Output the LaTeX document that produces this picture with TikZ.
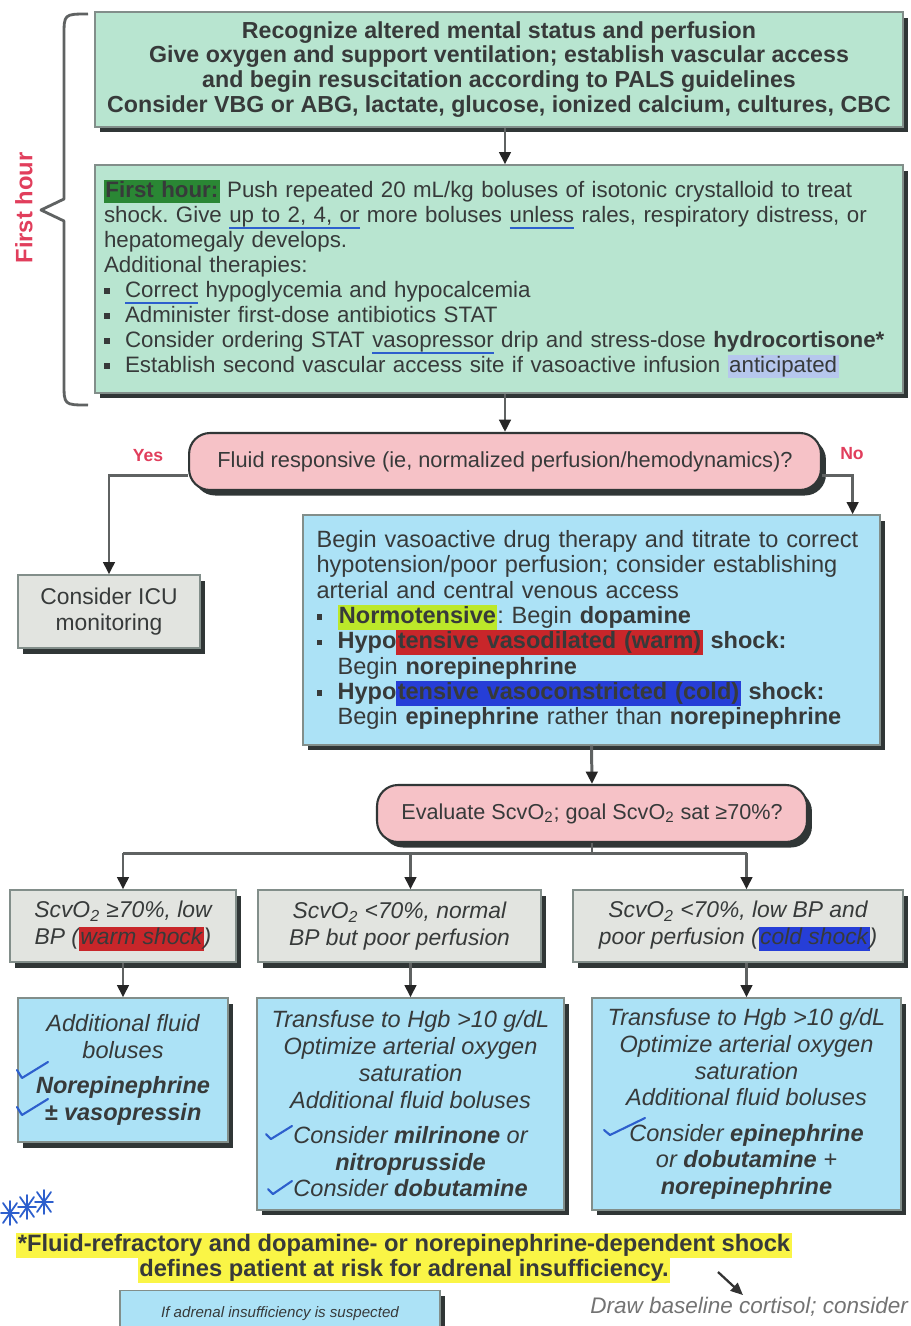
\documentclass[tikz,border=0pt]{standalone}
\usepackage{fontspec}
\setmainfont{Liberation Sans}
\usetikzlibrary{arrows.meta,calc,shadows}

\definecolor{mintfill}{RGB}{184,229,208}
\definecolor{pinkfill}{RGB}{246,194,199}
\definecolor{skyfill}{RGB}{172,226,246}
\definecolor{greyfill}{RGB}{226,228,224}
\definecolor{edgegrey}{RGB}{130,142,138}
\definecolor{inkgrey}{RGB}{55,58,58}
\definecolor{shadowgrey}{RGB}{48,54,54}
\definecolor{arrowgrey}{RGB}{95,98,98}
\definecolor{hlred}{RGB}{200,38,42}
\definecolor{hlblue}{RGB}{38,62,215}
\definecolor{hlyellow}{RGB}{250,245,70}
\definecolor{hlgreen}{RGB}{42,135,52}
\definecolor{hllime}{RGB}{188,232,42}
\definecolor{penblue}{RGB}{45,95,205}
\definecolor{labelred}{RGB}{225,62,92}

\newsavebox{\penbox}
\newcommand{\hlt}[2]{{\setlength{\fboxsep}{0.8pt}\colorbox{#1}{\vphantom{Ag}#2}}}
\newcommand{\bul}{\makebox[0.42cm][l]{\rule[0.3ex]{0.11cm}{0.11cm}}}
\newcommand{\scvo}{ScvO\textsubscript{2}}
\newcommand{\penline}[1]{\sbox{\penbox}{#1}\rlap{\textcolor{penblue}{\rule[-0.55ex]{\wd\penbox}{1.1pt}}}\usebox{\penbox}}
\newcommand{\bodyfont}{\fontsize{12.7}{14.2}\selectfont}
\newcommand{\widefont}{\fontsize{13.4}{14.4}\selectfont}
\frenchspacing

\tikzset{
    card/.style={draw=edgegrey, line width=0.8pt, inner sep=5pt, text=inkgrey,
                 align=center,
                 drop shadow={shadow xshift=0.1cm, shadow yshift=-0.11cm,
                              fill=shadowgrey, opacity=1}},
    mint card/.style={card, fill=mintfill},
    sky card/.style={card, fill=skyfill},
    grey card/.style={card, fill=greyfill},
    query/.style={card, fill=pinkfill, draw=shadowgrey, line width=1.2pt,
                  rounded corners=0.42cm},
    flow/.style={-{Triangle[length=7pt, width=6.5pt, color=black!85]},
                 line width=1.7pt, draw=arrowgrey},
    link/.style={line width=1.7pt, draw=arrowgrey},
    brace/.style={draw=arrowgrey, line width=1.6pt, line join=round},
    tag/.style={text=labelred, font=\bfseries\fontsize{10}{12}\selectfont},
    pen/.style={draw=penblue, line width=1.2pt, line cap=round, line join=round},
}

\begin{document}
\begin{tikzpicture}[x=0.02cm, y=-0.02cm]
    \path[use as bounding box, fill=white] (0,0) rectangle (911,1326);
    \clip (0,0) rectangle (911,1326);

    % first hour
    \draw[brace] (88,14) .. controls (64,14) .. (64,36) -- (64,199) -- (41,210)
        -- (64,221) -- (64,383) .. controls (64,405) .. (88,405);
    \node[rotate=90, text=labelred, font=\bfseries\fontsize{13.5}{15}\selectfont] (firsthour) at (24,208) {First hour};

    \node[mint card, minimum width=16.16cm, minimum height=2.3cm,
          font=\bfseries\fontsize{13.2}{14.2}\selectfont] (assess) at (499,69.5)
        {Recognize altered mental status and perfusion\\
         Give oxygen and support ventilation; establish vascular access\\
         and begin resuscitation according to PALS guidelines\\
         Consider VBG or ABG, lactate, glucose, ionized calcium, cultures, CBC};

    \node[mint card, minimum width=16.16cm, minimum height=4.56cm, text width=15.8cm,
          inner xsep=0.18cm, align=left, font=\bodyfont] (bolus) at (499,279)
        {\hlt{hlgreen}{\textbf{First hour:}} Push repeated 20 mL/kg boluses of isotonic crystalloid to treat\\
         shock. Give \penline{up to 2, 4, or} more boluses \penline{unless} rales, respiratory distress, or\\
         hepatomegaly develops.\\
         Additional therapies:\\
         \bul\penline{Correct} hypoglycemia and hypocalcemia\\
         \bul Administer first-dose antibiotics STAT\\
         \bul Consider ordering STAT \penline{vasopressor} drip and stress-dose \textbf{hydrocortisone*}\\
         \bul Establish second vascular access site if vasoactive infusion \hlt{penblue!35}{anticipated}};
    \draw[flow] ([xshift=0.12cm]assess.south) -- ([xshift=0.12cm]bolus.north);

    % fluid response
    \node[query, minimum width=12.64cm, minimum height=1.14cm,
          font=\fontsize{12.4}{14}\selectfont] (fluidq) at (505,461.5)
        {Fluid responsive (ie, normalized perfusion/hemodynamics)?};
    \draw[flow] (bolus.south -| fluidq.north) -- (fluidq.north);
    \node[tag] (yes) at (148,456) {Yes};
    \node[tag] (no) at (852,454) {No};

    \node[grey card, minimum width=3.64cm, minimum height=1.46cm,
          font=\fontsize{13}{14.4}\selectfont] (icu) at (109,611.5)
        {Consider ICU\\monitoring};
    \draw[flow] ([yshift=-0.28cm]fluidq.west) -| (icu.north);

    \node[sky card, minimum width=11.54cm, minimum height=4.6cm, text width=11.0cm,
          inner xsep=0.27cm, align=left, font=\widefont] (pressor) at (591.5,630)
        {Begin vasoactive drug therapy and titrate to correct\\
         hypotension/poor perfusion; consider establishing\\
         arterial and central venous access\\
         \bul\hlt{hllime}{\textbf{Normotensive}}: Begin \textbf{dopamine}\\
         \bul\textbf{Hypo\hlt{hlred}{tensive vasodilated (warm)} shock:}\\
         \hspace*{0.42cm}Begin \textbf{norepinephrine}\\
         \bul\textbf{Hypo\hlt{hlblue}{tensive vasoconstricted (cold)} shock:}\\
         \hspace*{0.42cm}Begin \textbf{epinephrine} rather than \textbf{norepinephrine}};
    \draw[flow] ([yshift=-0.28cm]fluidq.east) -| ([xshift=-0.56cm]pressor.north east);

    % oxygen saturation
    \node[query, minimum width=8.6cm, minimum height=1.14cm,
          font=\fontsize{12.3}{14}\selectfont] (scvq) at (592,813.5)
        {Evaluate \scvo; goal \scvo\ sat ≥70\%?};
    \draw[flow] (pressor.south) -- (scvq.north);
    \coordinate (split) at (592,853);

    \tikzset{state/.style={grey card, minimum height=1.44cm,
                           font=\itshape\fontsize{13}{15.4}\selectfont}}
    \node[state, minimum width=4.52cm] (warm) at (123,926)
        {\scvo\ ≥70\%, low\\BP (\hlt{hlred}{warm shock})};
    \node[state, minimum width=5.66cm] (normal) at (399.5,926)
        {\scvo\ <70\%, normal\\BP but poor perfusion};
    \node[state, minimum width=6.6cm] (cold) at (738,926)
        {\scvo\ <70\%, low BP and\\poor perfusion (\hlt{hlblue}{cold shock})};

    \tikzset{therapy/.style={sky card, font=\itshape\fontsize{13.4}{15.2}\selectfont}}
    \node[therapy, minimum width=4.2cm, minimum height=2.88cm] (warmtx) at (123,1070)
        {Additional fluid\\boluses\\[5pt]\textbf{Norepinephrine}\\\textbf{± vasopressin}};
    \node[therapy, minimum width=6.14cm, minimum height=4.24cm] (normaltx) at (410.5,1104)
        {Transfuse to Hgb >10 g/dL\\Optimize arterial oxygen\\saturation\\Additional fluid boluses\\[5pt]
         Consider \textbf{milrinone} or\\\textbf{nitroprusside}\\Consider \textbf{dobutamine}};
    \node[therapy, minimum width=6.18cm, minimum height=4.24cm] (coldtx) at (746.5,1104)
        {Transfuse to Hgb >10 g/dL\\Optimize arterial oxygen\\saturation\\Additional fluid boluses\\[5pt]
         Consider \textbf{epinephrine}\\or \textbf{dobutamine} +\\\textbf{norepinephrine}};

    \draw[link] (scvq.south) -- (split);
    \draw[link] (split -| warmtx.north) -- (split -| coldtx.north);
    \foreach \col/\tx in {warm/warmtx, normal/normaltx, cold/coldtx} {
        \draw[flow] (split -| \tx.north) -- (\col.north -| \tx.north);
        \draw[flow] (\col.south -| \tx.north) -- (\tx.north);
    }

    % pen marks
    \draw[pen] (17,1070) -- (22,1078) -- (48,1062);
    \draw[pen] (17,1107) -- (22,1115) -- (48,1099);
    \draw[pen] (266,1134) -- (271,1139) -- (292,1126);
    \draw[pen] (268,1189) -- (273,1194) -- (292,1181);
    \draw[pen] (604,1130) -- (610,1135) -- (645,1118);
    \foreach \cx/\cy in {10/1213, 27/1207, 44/1202} {
        \draw[pen, line width=1pt] (\cx-7,\cy-10) -- (\cx+7,\cy+10) (\cx+7,\cy-10) -- (\cx-7,\cy+10)
            (\cx-9,\cy) -- (\cx+9,\cy) (\cx,\cy-12) -- (\cx,\cy+12);
    }

    \node[align=center, text=inkgrey, font=\bfseries\fontsize{13.5}{14.5}\selectfont] (caveat) at (404,1258)
        {\hlt{hlyellow}{*Fluid-refractory and dopamine- or norepinephrine-dependent shock}\\
         \hlt{hlyellow}{defines patient at risk for adrenal insufficiency.}};

    % adrenal
    \node[sky card, anchor=north, minimum width=6.4cm, inner ysep=9pt, text depth=1.6cm,
          font=\itshape\fontsize{8.6}{11}\selectfont] (adrenal) at (280,1290)
        {If adrenal insufficiency is suspected};
    \node[anchor=west, inner sep=0pt, text=black!55,
          font=\itshape\fontsize{12.8}{15}\selectfont] (cortisol) at (590,1307)
        {Draw baseline cortisol; consider};
    \coordinate (cortcue) at (718,1272);
    \draw[-{Triangle[length=7pt, width=6pt]}, line width=1.3pt, black!80]
        (cortcue) -- ([xshift=3.06cm, yshift=0.04cm]cortisol.north west);
\end{tikzpicture}
\end{document}
